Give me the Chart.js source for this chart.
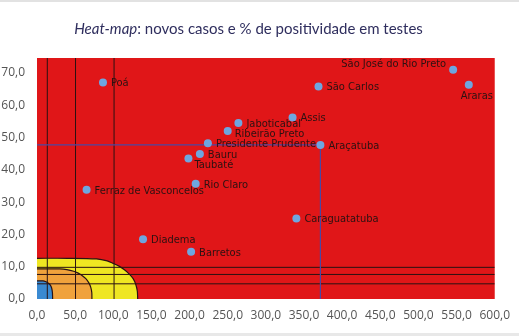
<!DOCTYPE html>
<html>
<head>
  <title>Heat-map</title>
  <script src="https://cdn.jsdelivr.net/npm/chart.js"></script>
  <style>
    body {
      margin: 0;
      padding: 0;
      background: #ffffff;
    }

    #wrap {
      position: relative;
      width: 519px;
      height: 336px;
      overflow: hidden;
    }

    #borda {
      position: absolute;
      left: 0;
      right: 0;
      top: 0;
      height: 2px;
      background: #e2e2e2;
    }

    #titulo {
      position: absolute;
      left: 0;
      width: 497px;
      top: 19px;
      text-align: center;
      font-family: Lato, sans-serif;
      font-size: 15px;
      color: #2f2e5e;
      white-space: nowrap;
    }

    #faixa {
      position: absolute;
      left: 0;
      right: 0;
      bottom: 0;
      height: 3px;
      background: #e8e8e8;
    }

    canvas {
      position: absolute;
      left: 0;
      top: 0;
    }
  </style>
</head>
<body>

  <div id="wrap">
    <canvas id="grafico" width="519" height="336"></canvas>
    <div id="borda"></div>
    <div id="titulo"><i>Heat-map</i>: novos casos e % de positividade em testes</div>
    <div id="faixa"></div>
  </div>

  <script>
    // municipios: novos casos (x) e % de positividade (y)
    const cidades = [
      'Poá', 'Jaboticabal', 'Ribeirão Preto', 'Presidente Prudente', 'Bauru', 'Taubaté',
      'Rio Claro', 'Ferraz de Vasconcelos', 'São José do Rio Preto', 'Araras', 'São Carlos',
      'Assis', 'Araçatuba', 'Diadema', 'Barretos', 'Caraguatatuba'
    ];
    const novosCasos = [86.5, 264, 250, 224, 213.5, 198.5, 208, 65, 545.5, 566, 369, 335, 371.5, 139, 202, 340];
    const positividade = [67.0, 54.5, 52.0, 48.2, 44.9, 43.5, 35.7, 33.8, 71.0, 66.3, 65.8, 56.2, 47.7, 18.5, 14.6, 24.9];

    // faixas do heat-map (contorno)
    const faixaAmarelaX = [0, 40, 78, 92, 100, 108, 115, 121, 126, 129.5, 131.5, 132];
    const faixaAmarelaY = [12.6, 12.6, 12.4, 11.8, 11.0, 10.1, 9.0, 7.7, 6.3, 4.5, 2.4, 0];
    const faixaLaranjaX = [0, 30, 39, 48, 54, 59, 64, 68, 70.5, 71.8, 72];
    const faixaLaranjaY = [9.3, 9.3, 9.1, 8.6, 8.0, 7.3, 6.3, 5.0, 3.6, 2.0, 0];
    const faixaAzulX = [0, 8, 11, 15, 17.5, 19.2, 20.2, 20.5];
    const faixaAzulY = [5.6, 5.6, 5.4, 4.9, 4.3, 3.4, 2.0, 0];

    // linhas de referencia
    const linhasVerticais = [13.5, 50.5, 101];
    const linhasHorizontais = [4.7, 7.6, 9.8];
    const cidadeDestaque = 'Araçatuba';

    const xMax = 600;
    const yMax = 74.6;

    // posicao dos rotulos (padrao: a direita)
    const posRotulo = {
      'São José do Rio Preto': 'esquerda',
      'Araras': 'abaixo',
      'Taubaté': 'abaixoDireita',
      'Ribeirão Preto': 'direitaBaixo'
    };

    const pares = (xs, ys) => xs.map((x, i) => ({ x: x, y: ys[i] }));
    const fmt = v => v.toFixed(1).replace('.', ',');

    const corLinha = '#2a1212';

    const datasets = [];

    datasets.push({
      label: 'municipios',
      data: pares(novosCasos, positividade),
      backgroundColor: '#6ea6e0',
      borderWidth: 0,
      pointRadius: 4,
      order: 0
    });

    const iDest = cidades.indexOf(cidadeDestaque);
    datasets.push({
      type: 'line',
      data: [
        { x: 0, y: positividade[iDest] },
        { x: novosCasos[iDest], y: positividade[iDest] },
        { x: novosCasos[iDest], y: 0 }
      ],
      borderColor: '#4b48a2',
      borderWidth: 1.2,
      pointRadius: 0,
      fill: false,
      order: 1
    });

    linhasVerticais.forEach(v => {
      datasets.push({
        type: 'line',
        data: [{ x: v, y: 0 }, { x: v, y: yMax }],
        borderColor: corLinha,
        borderWidth: 1,
        pointRadius: 0,
        fill: false,
        order: 2
      });
    });
    linhasHorizontais.forEach(v => {
      datasets.push({
        type: 'line',
        data: [{ x: 0, y: v }, { x: xMax, y: v }],
        borderColor: corLinha,
        borderWidth: 1,
        pointRadius: 0,
        fill: false,
        order: 2
      });
    });

    const faixas = [
      [faixaAzulX, faixaAzulY, '#3a8ad2', 3],
      [faixaLaranjaX, faixaLaranjaY, '#f0a23c', 4],
      [faixaAmarelaX, faixaAmarelaY, '#efe622', 5]
    ];
    faixas.forEach(f => {
      datasets.push({
        type: 'line',
        data: pares(f[0], f[1]),
        borderColor: corLinha,
        borderWidth: 1.2,
        backgroundColor: f[2],
        pointRadius: 0,
        tension: 0.3,
        fill: 'origin',
        order: f[3]
      });
    });

    const fundoVermelho = {
      id: 'fundoVermelho',
      beforeDraw(chart) {
        const a = chart.chartArea;
        const c = chart.ctx;
        c.save();
        c.fillStyle = '#e01618';
        c.fillRect(a.left, a.top, a.right - a.left, a.bottom - a.top);
        c.restore();
      }
    };

    const rotulos = {
      id: 'rotulos',
      afterDatasetsDraw(chart) {
        const c = chart.ctx;
        const meta = chart.getDatasetMeta(0);
        c.save();
        c.font = '11px "Liberation Sans Narrow", "DejaVu Sans Condensed", sans-serif';
        c.fillStyle = '#2b1212';
        c.textBaseline = 'middle';
        meta.data.forEach((pt, i) => {
          const nome = cidades[i];
          const pos = posRotulo[nome] || 'direita';
          let x = pt.x, y = pt.y;
          c.textAlign = 'left';
          if (pos === 'esquerda') {
            c.textAlign = 'right';
            x -= 7; y -= 5;
          } else if (pos === 'abaixo') {
            c.textAlign = 'center';
            x += 8; y += 11;
          } else if (pos === 'abaixoDireita') {
            x += 6; y += 7;
          } else if (pos === 'direitaBaixo') {
            x += 7; y += 3;
          } else {
            x += 8; y += 1;
          }
          c.fillText(nome, x, y);
        });
        c.restore();
      }
    };

    const ctx = document.getElementById('grafico').getContext('2d');
    new Chart(ctx, {
      type: 'scatter',
      data: { datasets: datasets },
      plugins: [fundoVermelho, rotulos],
      options: {
        responsive: false,
        animation: false,
        layout: { padding: { top: 58, right: 22, left: 0, bottom: 0 } },
        plugins: {
          legend: { display: false },
          tooltip: { enabled: false }
        },
        scales: {
          x: {
            type: 'linear',
            min: 0,
            max: xMax,
            grid: { display: false, drawTicks: false },
            border: { display: false },
            afterFit: s => { s.height = 37; },
            ticks: {
              stepSize: 50,
              padding: 9,
              color: '#555555',
              font: { family: '"Open Sans", sans-serif', size: 12 },
              maxRotation: 0,
              callback: v => fmt(v)
            }
          },
          y: {
            type: 'linear',
            min: 0,
            max: yMax,
            grid: { display: false, drawTicks: false },
            border: { display: false },
            afterFit: s => { s.width = 37; },
            ticks: {
              stepSize: 10,
              includeBounds: false,
              padding: 12,
              color: '#555555',
              font: { family: '"Open Sans", sans-serif', size: 12 },
              callback: v => fmt(v)
            }
          }
        }
      }
    });
  </script>

</body>
</html>
